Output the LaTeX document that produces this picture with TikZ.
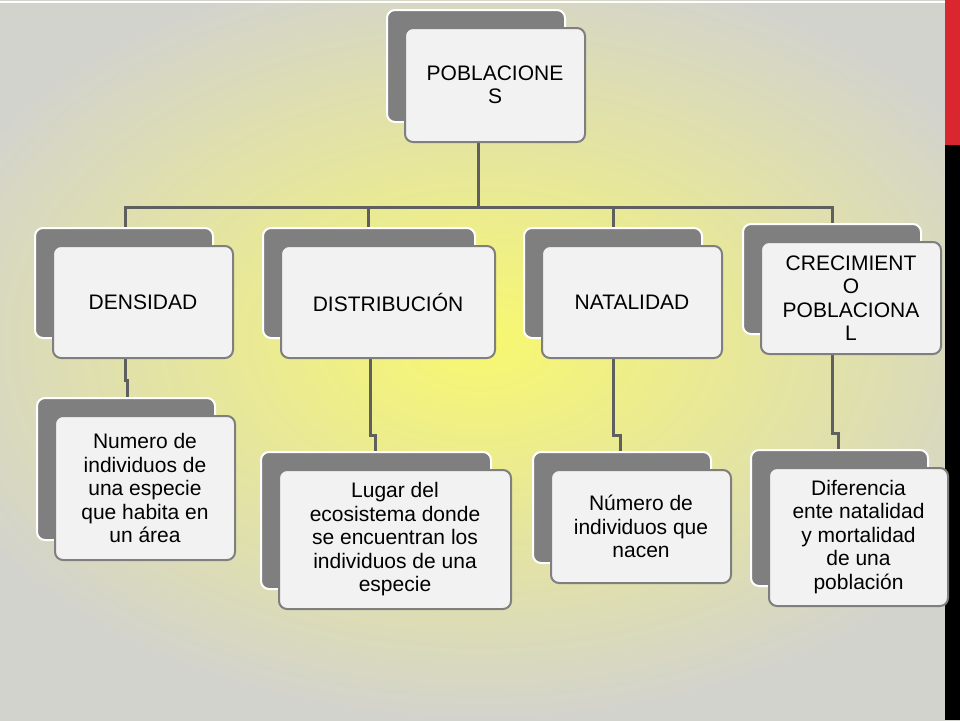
\documentclass[tikz,border=0pt]{standalone}
\usepackage{fontspec}
\setmainfont{Liberation Sans}
\definecolor{bgg}{HTML}{D3D3CD}
\definecolor{bgy}{HTML}{F8F870}
\definecolor{backg}{HTML}{7F7F7F}
\definecolor{frontf}{HTML}{F2F2F2}
\definecolor{linec}{HTML}{5F5F5F}
\definecolor{barred}{HTML}{D9262F}
\tikzset{
  backbox/.style={draw=white,line width=2pt,fill=backg,rounded corners=8pt,inner sep=0pt},
  frontbox/.style={draw=backg,line width=2pt,fill=frontf,rounded corners=8pt,inner sep=1pt,align=center,font=\fontsize{21}{23.5}\selectfont},
  conn/.style={draw=linec,line width=3pt}
}
\newcommand\tbox[6]{%
  \node[backbox,minimum width=#4-#2,minimum height=#5-#3] (#1b) at ({(#2+#4)/2},{(#3+#5)/2}) {};
  \node[frontbox,minimum width=#4-#2+2,minimum height=#5-#3+2] (#1) at ({(#2+#4)/2+19},{(#3+#5)/2+19}) {#6};
}
\begin{document}
\begin{tikzpicture}[x=1pt,y=-1pt]
\useasboundingbox (0,0) rectangle (960,720);
\shade[inner color=bgy,outer color=bgg] (-100,-40) rectangle (1060,720);
\fill[barred] (945,0) rectangle (960,145);
\fill[black] (945,145) rectangle (960,720);
\draw[white,line width=2pt] (0,2) -- (945,2);
\coordinate (bus) at (478,207);
\draw[conn] (478,140) -- (bus);
\draw[conn] (125,228) |- (bus) -| (832,224);
\draw[conn] (368,207) -- (368,228);
\draw[conn] (613,207) -- (613,228);
\draw[conn] (125,358) -- (125,380) -- (127,380) -- (127,398);
\draw[conn] (370,358) -- (370,435) -- (375,435) -- (375,452);
\draw[conn] (613,358) -- (613,435) -- (620,435) -- (620,452);
\draw[conn] (832,354) -- (832,433) -- (838,433) -- (838,450);
\tbox{top}{387}{10}{565}{122}{POBLACIONE\\S}
\tbox{den}{35}{228}{213}{338}{DENSIDAD}
\tbox{dis}{263}{228}{475}{338}{DISTRIBUCIÓN}
\tbox{nat}{524}{228}{702}{338}{NATALIDAD}
\tbox{cre}{743}{224}{921}{334}{CRECIMIENT\\O\\POBLACIONA\\L}
\tbox{dend}{37}{398}{215}{540}{Numero de\\individuos de\\una especie\\que habita en\\un área}
\tbox{disd}{261}{452}{491}{589}{Lugar del\\ecosistema donde\\se encuentran los\\individuos de una\\especie}
\tbox{natd}{533}{452}{711}{563}{Número de\\individuos que\\nacen}
\tbox{cred}{751}{450}{928}{586}{Diferencia\\ente natalidad\\y mortalidad\\de una\\población}
\end{tikzpicture}
\end{document}
